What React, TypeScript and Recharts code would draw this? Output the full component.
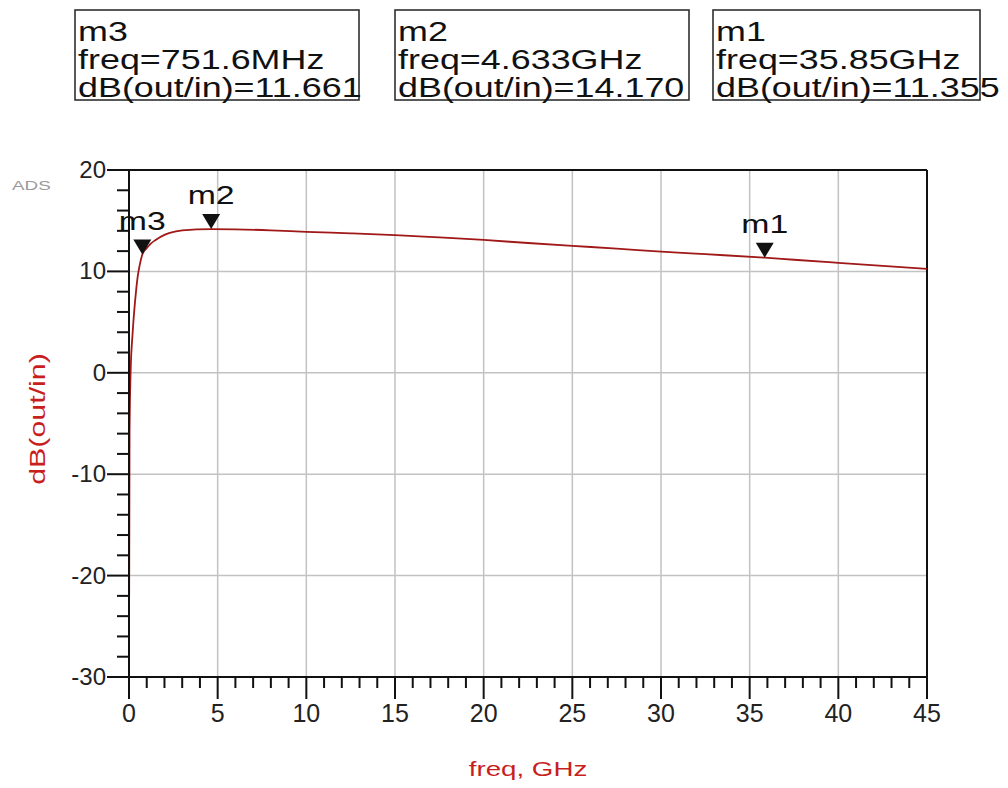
import {
  LineChart,
  Line,
  XAxis,
  YAxis,
  CartesianGrid,
  ReferenceLine,
  ReferenceDot,
} from 'recharts'

// sweep of dB(out/in) vs freq (GHz)
const freqGHz = [
  0.01, 0.03, 0.09, 0.2, 0.3, 0.4, 0.5, 0.6, 0.7516, 1.0, 1.2, 1.5, 2.0, 2.3, 3.0, 4.633, 6, 8,
  10, 12.5, 15, 17.5, 20, 22.5, 25, 27.5, 30, 32.5, 35.85, 37.5, 40, 42.5, 45,
]
const gainDb = [
  -22, -6, 0, 3.8, 6.2, 8.1, 9.6, 10.6, 11.661, 12.3, 12.7, 13.1, 13.6, 13.8, 14.05, 14.17,
  14.15, 14.05, 13.9, 13.75, 13.58, 13.35, 13.1, 12.8, 12.52, 12.25, 11.95, 11.7, 11.355, 11.15,
  10.85, 10.55, 10.25,
]

// markers
const markerNames = ['m3', 'm2', 'm1']
const markerFreq = [0.7516, 4.633, 35.85]
const markerFreqText = ['751.6MHz', '4.633GHz', '35.85GHz']
const markerGain = [11.661, 14.17, 11.355]

// axes
const xTicks = Array.from({ length: 46 }, (_, i) => i)
const yTicks = Array.from({ length: 26 }, (_, i) => -30 + i * 2)
const gridX = [5, 10, 15, 20, 25, 30, 35, 40]
const gridY = [-20, -10, 0, 10]

const data = freqGHz.map((f, i) => ({ freq: f, gain: gainDb[i] }))

const FONT = '"Liberation Sans", Arial, sans-serif'
const RED = '#c81e1e'
const CURVE = '#a01818'

function YTick({ x, y, payload }: any) {
  const major = payload.value % 10 === 0
  const len = major ? 22 : 12
  return (
    <g>
      <line x1={x - len} y1={y} x2={x} y2={y} stroke="#111" strokeWidth={2} />
      {major && (
        <text
          x={x - len - 1}
          y={y + 8}
          textAnchor="end"
          fontSize={24}
          fontFamily={FONT}
          fill="#222"
        >
          {payload.value}
        </text>
      )}
    </g>
  )
}

function XTick({ x, y, payload }: any) {
  const major = payload.value % 5 === 0
  const len = major ? 22 : 11
  return (
    <g>
      <line x1={x} y1={y} x2={x} y2={y + len} stroke="#111" strokeWidth={2} />
      {major && (
        <text
          x={x}
          y={y + 45}
          textAnchor="middle"
          fontSize={25}
          fontFamily={FONT}
          fill="#222"
        >
          {payload.value}
        </text>
      )}
    </g>
  )
}

function MarkerShape({ cx, cy, name }: any) {
  return (
    <g>
      <polygon points={`${cx - 9},${cy - 15} ${cx + 9},${cy - 15} ${cx},${cy}`} fill="#111" />
      <text
        transform={`translate(${cx},${cy - 25}) scale(1.3,1)`}
        textAnchor="middle"
        fontSize={26}
        fontFamily={FONT}
        fill="#111"
      >
        {name}
      </text>
    </g>
  )
}

const boxLeft = [75, 395, 713]
const boxWidth = [284, 294, 267]

function MarkerBoxes() {
  return (
    <g>
      {markerNames.map((name, i) => {
        const lines = [
          name,
          `freq=${markerFreqText[i]}`,
          `dB(out/in)=${markerGain[i].toFixed(3)}`,
        ]
        return (
          <g key={name}>
            <rect
              x={boxLeft[i]}
              y={10}
              width={boxWidth[i]}
              height={90}
              fill="#fff"
              stroke="#222"
              strokeWidth={1.5}
            />
            {lines.map((t, j) => (
              <text
                key={j}
                transform={`translate(${boxLeft[i] + 3},${41 + j * 28}) scale(1.33,1)`}
                fontSize={27}
                fontFamily={FONT}
                fill="#111"
              >
                {t}
              </text>
            ))}
          </g>
        )
      })}
    </g>
  )
}

export default function App() {
  return (
    <div
      style={{
        position: 'absolute',
        left: 0,
        top: 0,
        width: 1008,
        height: 788,
        background: '#fff',
        fontFamily: FONT,
      }}
    >
      <LineChart
        width={1008}
        height={788}
        data={data}
        margin={{ top: 170, right: 81, bottom: 61, left: 69 }}
      >
        <CartesianGrid
          stroke="#c2c2c2"
          strokeWidth={1.5}
          horizontalValues={gridY}
          verticalValues={gridX}
        />
        <XAxis
          dataKey="freq"
          type="number"
          domain={[0, 45]}
          ticks={xTicks}
          interval={0}
          height={50}
          tickSize={0}
          tickMargin={0}
          tickLine={false}
          axisLine={{ stroke: '#111', strokeWidth: 2 }}
          tick={<XTick />}
          allowDataOverflow
        />
        <YAxis
          type="number"
          domain={[-30, 20]}
          ticks={yTicks}
          interval={0}
          width={60}
          tickSize={0}
          tickMargin={0}
          tickLine={false}
          axisLine={{ stroke: '#111', strokeWidth: 2 }}
          tick={<YTick />}
          allowDataOverflow
        />
        <ReferenceLine y={20} stroke="#111" strokeWidth={2} />
        <ReferenceLine x={45} stroke="#111" strokeWidth={2} />
        <Line
          type="monotone"
          dataKey="gain"
          stroke={CURVE}
          strokeWidth={1.8}
          dot={false}
          isAnimationActive={false}
        />
        {markerNames.map((name, i) => (
          <ReferenceDot
            key={name}
            x={markerFreq[i]}
            y={markerGain[i]}
            r={0}
            shape={(p: any) => <MarkerShape {...p} name={name} />}
          />
        ))}
      </LineChart>
      <svg
        width={1008}
        height={788}
        style={{ position: 'absolute', left: 0, top: 0, pointerEvents: 'none' }}
      >
        <MarkerBoxes />
        <text
          transform="translate(12,190) scale(1.45,1)"
          fontSize={13}
          fontFamily={FONT}
          fill="#9a9a9a"
        >
          ADS
        </text>
        <text
          transform="translate(45,419) rotate(-90) scale(1.38,1)"
          textAnchor="middle"
          fontSize={22}
          fontFamily={FONT}
          fill={RED}
        >
          dB(out/in)
        </text>
        <text
          transform="translate(528,776) scale(1.32,1)"
          textAnchor="middle"
          fontSize={21}
          fontFamily={FONT}
          fill={RED}
        >
          freq, GHz
        </text>
      </svg>
    </div>
  )
}
